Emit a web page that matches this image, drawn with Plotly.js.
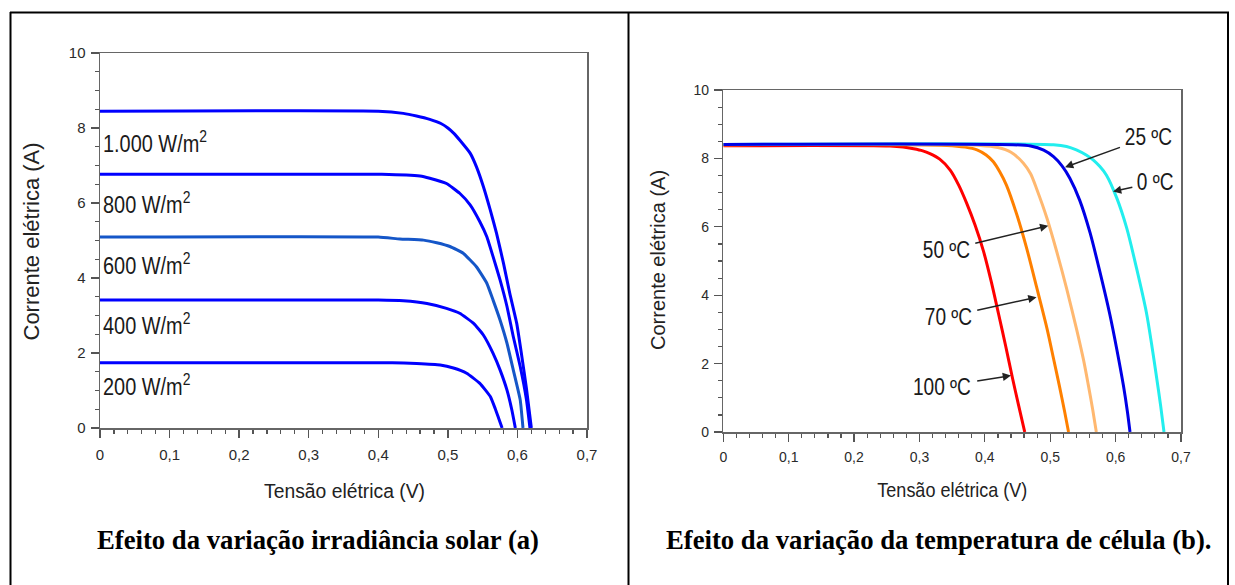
<!DOCTYPE html>
<html>
<head>
<meta charset="utf-8">
<script src="https://cdn.plot.ly/plotly-3.0.1.min.js"></script>
<style>html,body{margin:0;padding:0;background:#fff;}#chart{width:1235px;height:585px;}</style>
</head>
<body>
<div id="chart"></div>
<script>
// ---------- DATA: panel (a) irradiance ----------
const irrLabels = ["1.000 W/m<sup>2</sup>", "800 W/m<sup>2</sup>", "600 W/m<sup>2</sup>", "400 W/m<sup>2</sup>", "200 W/m<sup>2</sup>"];
const irr1000_V = [0, 0.40, 0.436, 0.455, 0.474, 0.490, 0.500, 0.509, 0.517, 0.532, 0.541, 0.551, 0.561, 0.570, 0.580, 0.589, 0.599, 0.606, 0.613, 0.620];
const irr1000_I = [8.45, 8.45, 8.39, 8.32, 8.23, 8.12, 8.00, 7.85, 7.68, 7.33, 6.97, 6.44, 5.81, 5.19, 4.39, 3.59, 2.79, 1.95, 1.05, 0];
const irr800_V = [0, 0.405, 0.460, 0.474, 0.498, 0.517, 0.532, 0.546, 0.556, 0.565, 0.575, 0.585, 0.594, 0.604, 0.613, 0.618];
const irr800_I = [6.77, 6.77, 6.72, 6.66, 6.52, 6.26, 5.95, 5.50, 5.10, 4.57, 3.95, 3.24, 2.44, 1.64, 0.75, 0];
const irr600_V = [0, 0.40, 0.431, 0.465, 0.484, 0.503, 0.522, 0.541, 0.556, 0.565, 0.575, 0.585, 0.594, 0.604, 0.608];
const irr600_I = [5.09, 5.09, 5.04, 5.01, 4.94, 4.84, 4.66, 4.30, 3.86, 3.41, 2.88, 2.26, 1.55, 0.75, 0];
const irr400_V = [0, 0.40, 0.436, 0.470, 0.498, 0.517, 0.537, 0.551, 0.565, 0.575, 0.585, 0.592, 0.597];
const irr400_I = [3.41, 3.41, 3.39, 3.32, 3.19, 3.06, 2.79, 2.48, 1.99, 1.55, 1.01, 0.48, 0];
const irr200_V = [0, 0.42, 0.455, 0.489, 0.508, 0.527, 0.546, 0.561, 0.568, 0.573, 0.578];
const irr200_I = [1.74, 1.74, 1.72, 1.68, 1.60, 1.46, 1.19, 0.84, 0.52, 0.26, 0];

// ---------- DATA: panel (b) temperature ----------
const tempLabels = ["100 ºC", "70 ºC", "50 ºC", "25 ºC", "0 ºC"];
const t100_V = [0, 0.255, 0.275, 0.291, 0.305, 0.316, 0.331, 0.347, 0.360, 0.372, 0.385, 0.398, 0.410, 0.421, 0.432, 0.442, 0.452, 0.461];
const t100_I = [8.37, 8.36, 8.33, 8.28, 8.22, 8.14, 7.98, 7.66, 7.22, 6.70, 6.05, 5.28, 4.38, 3.45, 2.50, 1.60, 0.75, 0];
const t70_V = [0, 0.342, 0.370, 0.388, 0.402, 0.413, 0.423, 0.433, 0.449, 0.464, 0.479, 0.495, 0.505, 0.514, 0.522, 0.528];
const t70_I = [8.40, 8.38, 8.33, 8.25, 8.10, 7.90, 7.60, 7.22, 6.35, 5.37, 4.25, 3.03, 2.15, 1.35, 0.60, 0];
const t50_V = [0, 0.393, 0.420, 0.440, 0.459, 0.470, 0.479, 0.495, 0.510, 0.525, 0.540, 0.551, 0.558, 0.565, 0.5705];
const t50_I = [8.40, 8.38, 8.32, 8.18, 7.86, 7.55, 7.12, 6.25, 5.27, 4.20, 3.03, 2.10, 1.40, 0.65, 0];
const t25_V = [0, 0.443, 0.470, 0.490, 0.505, 0.518, 0.530, 0.545, 0.561, 0.576, 0.591, 0.602, 0.612, 0.618, 0.622];
const t25_I = [8.41, 8.40, 8.36, 8.24, 8.05, 7.78, 7.42, 6.78, 5.82, 4.68, 3.45, 2.40, 1.35, 0.60, 0];
const t0_V = [0, 0.505, 0.525, 0.540, 0.555, 0.566, 0.576, 0.586, 0.602, 0.617, 0.632, 0.647, 0.656, 0.663, 0.669, 0.674];
const t0_I = [8.41, 8.40, 8.35, 8.25, 8.10, 7.95, 7.76, 7.51, 6.83, 5.96, 4.79, 3.50, 2.45, 1.55, 0.75, 0];

// ---------- TICKS ----------
const xTickVals = [0, 0.1, 0.2, 0.3, 0.4, 0.5, 0.6, 0.7];
const xTickText = ["0", "0,1", "0,2", "0,3", "0,4", "0,5", "0,6", "0,7"];
const yTickVals = [0, 2, 4, 6, 8, 10];
const yTickText = ["0", "2", "4", "6", "8", "10"];
const xTitle = "Tensão elétrica (V)";
const yTitle = "Corrente elétrica (A)";
const captionA = "Efeito da variação irradiância solar (a)";
const captionB = "Efeito da variação da temperatura de célula (b).";

const W = 1235, H = 585;
const px = v => v / W;
const py = v => 1 - v / H;

const arial = "Liberation Sans, Arial, sans-serif";
const serif = "Liberation Serif, Times New Roman, serif";

function tr(x, y, color, xa, ya, sm) {
  return {x: x, y: y, type: 'scatter', mode: 'lines', xaxis: xa, yaxis: ya,
          line: {color: color, width: 3, shape: 'spline', smoothing: sm},
          hoverinfo: 'skip', showlegend: false};
}

const data = [
  tr(irr200_V, irr200_I, '#0000ff', 'x', 'y', 0.4),
  tr(irr400_V, irr400_I, '#0000ff', 'x', 'y', 0.4),
  tr(irr600_V, irr600_I, '#1556c8', 'x', 'y', 0.4),
  tr(irr800_V, irr800_I, '#0000ff', 'x', 'y', 0.4),
  tr(irr1000_V, irr1000_I, '#0000ff', 'x', 'y', 0.4),
  tr(t100_V, t100_I, '#ff0000', 'x2', 'y2', 0.8),
  tr(t70_V, t70_I, '#ff8000', 'x2', 'y2', 0.8),
  tr(t50_V, t50_I, '#ffb870', 'x2', 'y2', 0.8),
  tr(t0_V, t0_I, '#22eeee', 'x2', 'y2', 0.8),
  tr(t25_V, t25_I, '#0000e6', 'x2', 'y2', 0.8)
];

function xaxis(domain, anchor, fs) {
  return {domain: domain, anchor: anchor, range: [0, 0.7], tickvals: xTickVals, ticktext: xTickText,
    showgrid: false, zeroline: false, showline: true, linecolor: '#666', linewidth: 1.5, mirror: true,
    ticks: 'outside', ticklen: 8, tickwidth: 1.3, tickcolor: '#555', ticklabelstandoff: 4,
    minor: {dtick: 0.02, tick0: 0, ticks: 'outside', ticklen: 4, tickwidth: 1.2, tickcolor: '#555', showgrid: false},
    tickfont: {family: arial, size: fs, color: '#2a2a2a'}, automargin: false, fixedrange: true};
}
function yaxis(domain, anchor, fs) {
  return {domain: domain, anchor: anchor, range: [0, 10], tickvals: yTickVals, ticktext: yTickText,
    showgrid: false, zeroline: false, showline: true, linecolor: '#666', linewidth: 1.5, mirror: true,
    ticks: 'outside', ticklen: 8, tickwidth: 1.3, tickcolor: '#555', ticklabelstandoff: 2,
    minor: {dtick: 0.5, tick0: 0, ticks: 'outside', ticklen: 4, tickwidth: 1.2, tickcolor: '#555', showgrid: false},
    tickfont: {family: arial, size: fs, color: '#2a2a2a'}, automargin: false, fixedrange: true};
}

const annotations = [];
const condense = []; // [annotation index, horizontal scale, origin]
// panel (a) curve labels (condensed look of the original)
const irrLabelY = [7.62, 5.99, 4.37, 2.77, 1.14];
irrLabels.forEach((t, i) => {
  condense.push([annotations.length, 0.83, 'left center']);
  annotations.push({xref: 'x', yref: 'y', x: 0.002, y: irrLabelY[i], text: t,
    showarrow: false, xanchor: 'left', yanchor: 'middle', font: {family: arial, size: 24, color: '#1a1a1a'}});
});

// panel (b) arrow labels
const tempAnn = [
  {t: tempLabels[3], ax: 0.651, ay: 8.63, x: 0.5226, y: 7.74},
  {t: tempLabels[4], ax: 0.660, ay: 7.31, x: 0.596, y: 7.03},
  {t: tempLabels[2], ax: 0.341, ay: 5.32, x: 0.497, y: 6.03},
  {t: tempLabels[1], ax: 0.344, ay: 3.37, x: 0.479, y: 3.94},
  {t: tempLabels[0], ax: 0.334, ay: 1.32, x: 0.440, y: 1.65}
];
tempAnn.forEach(a => {
  condense.push([annotations.length, 0.83, 'center']);
  annotations.push({xref: 'x2', yref: 'y2', axref: 'x2', ayref: 'y2',
    x: a.x, y: a.y, ax: a.ax, ay: a.ay, text: a.t, showarrow: true, arrowhead: 2, arrowsize: 1.1,
    arrowwidth: 1.5, arrowcolor: '#222', borderpad: 0, standoff: 0,
    font: {family: arial, size: 23, color: '#1a1a1a'}});
});

// axis titles
condense.push([annotations.length, 0.92, 'center']);
annotations.push({xref: 'paper', yref: 'paper', x: px(344.5), y: py(490), text: xTitle, showarrow: false,
  xanchor: 'center', yanchor: 'middle', font: {family: arial, size: 21, color: '#222'}});
condense.push([annotations.length, 0.90, 'center']);
annotations.push({xref: 'paper', yref: 'paper', x: px(952), y: py(490), text: xTitle, showarrow: false,
  xanchor: 'center', yanchor: 'middle', font: {family: arial, size: 20, color: '#222'}});
annotations.push({xref: 'paper', yref: 'paper', x: px(31.5), y: py(242), text: yTitle, showarrow: false,
  textangle: -90, xanchor: 'center', yanchor: 'middle', font: {family: arial, size: 22, color: '#222'}});
annotations.push({xref: 'paper', yref: 'paper', x: px(658), y: py(260), text: yTitle, showarrow: false,
  textangle: -90, xanchor: 'center', yanchor: 'middle', font: {family: arial, size: 20, color: '#222'}});
// captions
annotations.push({xref: 'paper', yref: 'paper', x: px(317.5), y: py(540), text: '<b>' + captionA + '</b>', showarrow: false,
  xanchor: 'center', yanchor: 'middle', font: {family: serif, size: 26.7, color: '#000'}});
annotations.push({xref: 'paper', yref: 'paper', x: px(938.5), y: py(540), text: '<b>' + captionB + '</b>', showarrow: false,
  xanchor: 'center', yanchor: 'middle', font: {family: serif, size: 26.7, color: '#000'}});

const border = {color: '#000', width: 2};
const shapes = [
  {type: 'line', xref: 'paper', yref: 'paper', x0: px(10), x1: px(1229), y0: py(12.5), y1: py(12.5), line: border},
  {type: 'line', xref: 'paper', yref: 'paper', x0: px(10.5), x1: px(10.5), y0: py(12), y1: 0, line: border},
  {type: 'line', xref: 'paper', yref: 'paper', x0: px(628.5), x1: px(628.5), y0: py(12), y1: 0, line: border},
  {type: 'line', xref: 'paper', yref: 'paper', x0: px(1228), x1: px(1228), y0: py(12), y1: 0, line: border}
];

const layout = {
  width: W, height: H, margin: {l: 0, r: 0, t: 0, b: 0}, paper_bgcolor: '#fff', plot_bgcolor: '#fff',
  showlegend: false,
  xaxis: xaxis([px(100), px(587)], 'y', 15),
  yaxis: yaxis([py(428), py(53)], 'x', 15),
  xaxis2: xaxis([px(723.3), px(1181)], 'y2', 14),
  yaxis2: yaxis([py(432), py(90)], 'x2', 14),
  annotations: annotations, shapes: shapes
};

Plotly.newPlot('chart', data, layout, {staticPlot: true, displayModeBar: false}).then(gd => {
  const groups = gd.querySelectorAll('.annotation');
  condense.forEach(([idx, s, origin]) => {
    const g = groups[idx];
    if (!g) return;
    const txt = g.querySelector('text.annotation-text');
    if (!txt) return;
    txt.style.transformBox = 'fill-box';
    txt.style.transformOrigin = origin;
    txt.style.transform = 'scaleX(' + s + ')';
  });
});
</script>
</body>
</html>
